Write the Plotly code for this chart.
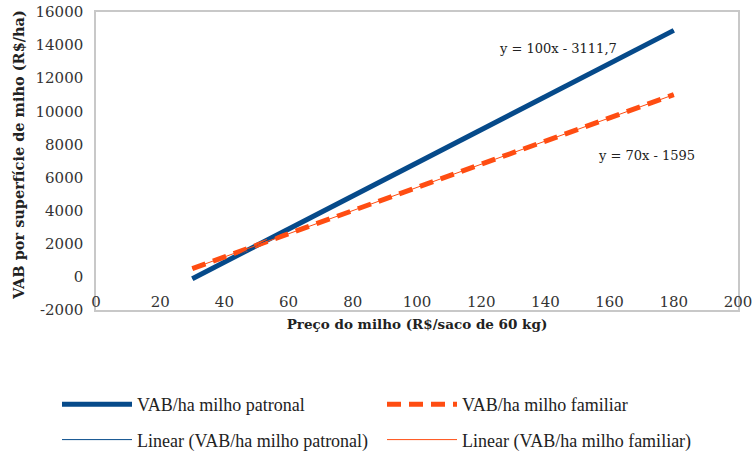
import numpy as np
import plotly.graph_objects as go

# Data
preco = [30, 40, 50, 60, 70, 80, 90, 100, 110, 120, 130, 140, 150, 160, 170, 180]
vab_patronal = [-110, 890, 1890, 2890, 3890, 4890, 5890, 6890, 7890, 8890,
                9890, 10890, 11890, 12890, 13890, 14890]
vab_familiar = [505, 1205, 1905, 2605, 3305, 4005, 4705, 5405, 6105, 6805,
                7505, 8205, 8905, 9605, 10305, 11005]
x_ticks = [0, 20, 40, 60, 80, 100, 120, 140, 160, 180, 200]
y_ticks = [-2000, 0, 2000, 4000, 6000, 8000, 10000, 12000, 14000, 16000]
y_ticklabels = ["-2000", "0", "2000", "4000", "6000", "8000", "10000",
                "12000", "14000", "16000"]

BLUE = "#064A8A"
ORANGE = "#FF4D12"
GRAY = "#C8C8C8"
FONT = "DejaVu Serif"
LFONT = "Liberation Serif"

# Linear trendlines (least squares fit)
cp = np.polyfit(preco, vab_patronal, 1)
cf = np.polyfit(preco, vab_familiar, 1)
trend_p = np.polyval(cp, preco)
trend_f = np.polyval(cf, preco)

fig = go.Figure()
fig.add_trace(go.Scatter(x=preco, y=vab_patronal, mode="lines",
                         line=dict(color=BLUE, width=5),
                         name="VAB/ha milho patronal", legend="legend",
                         legendgroup="a"))
fig.add_trace(go.Scatter(x=preco, y=vab_familiar, mode="lines",
                         line=dict(color=ORANGE, width=5, dash="14px,8px"),
                         name="VAB/ha milho familiar", legend="legend2",
                         legendgroup="c"))
fig.add_trace(go.Scatter(x=preco, y=trend_p, mode="lines",
                         line=dict(color=BLUE, width=1),
                         name="Linear (VAB/ha milho patronal)", legend="legend",
                         legendgroup="b"))
fig.add_trace(go.Scatter(x=preco, y=trend_f, mode="lines",
                         line=dict(color=ORANGE, width=1),
                         name="Linear (VAB/ha milho familiar)", legend="legend2",
                         legendgroup="d"))

fig.add_annotation(x=144, y=13800, text="y = 100x - 3111,7", showarrow=False,
                   font=dict(family=FONT, size=13, color="#222"))
fig.add_annotation(x=171.5, y=7360, text="y = 70x - 1595", showarrow=False,
                   font=dict(family=FONT, size=13, color="#222"))

# Y-axis title
fig.add_annotation(xref="paper", yref="paper", x=-78 / 642, y=0.52,
                   text="<b>VAB por superfície de miho (R$/ha)</b>", textangle=-90,
                   showarrow=False, xanchor="center", yanchor="middle",
                   font=dict(family=FONT, size=14.5, color="#222"))

leg_common = dict(orientation="v", xref="container", yref="container",
                  xanchor="left", yanchor="top", itemwidth=70,
                  font=dict(family=LFONT, size=18, color="#222"),
                  tracegroupgap=9, traceorder="grouped", bgcolor="rgba(0,0,0,0)")

fig.update_layout(
    width=755, height=451,
    margin=dict(l=96, r=17, t=12, b=141, autoexpand=False),
    paper_bgcolor="white", plot_bgcolor="white",
    font=dict(family=FONT, color="#222"),
    showlegend=True,
    legend=dict(x=57 / 755, y=1 - 386 / 451, **leg_common),
    legend2=dict(x=382 / 755, y=1 - 386 / 451, **leg_common),
    xaxis=dict(range=[0, 200], tickvals=x_ticks, showgrid=False, zeroline=False,
               showline=True, mirror=True, linecolor=GRAY, linewidth=1.5,
               ticks="", tickfont=dict(family=FONT, size=15, color="#333"),
               ticklabelstandoff=-23, automargin=False,
               title=dict(text="<b>Preço do milho (R$/saco de 60 kg)</b>",
                          font=dict(family=FONT, size=13.5, color="#222"), standoff=10)),
    xaxis2=dict(range=[0, 200], tickvals=x_ticks, overlaying="x", anchor="free",
                position=2000 / 18000, side="bottom", showgrid=False, zeroline=False,
                showline=True, linecolor=GRAY, linewidth=1.5, ticks="outside",
                ticklen=5, tickcolor=GRAY, showticklabels=False, automargin=False),
    yaxis=dict(range=[-2000, 16000], tickvals=y_ticks, ticktext=y_ticklabels,
               showgrid=False, zeroline=False,
               showline=True, mirror=True, linecolor=GRAY, linewidth=1.5,
               ticks="", tickfont=dict(family=FONT, size=15, color="#333"),
               ticklabelstandoff=8, automargin=False),
)

fig.write_html("out.html", post_script="document.body.style.margin='0';",
               config={"displayModeBar": False})
